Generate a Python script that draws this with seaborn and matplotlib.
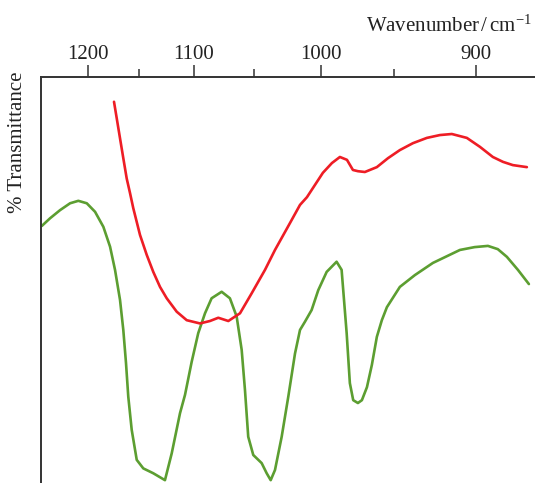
import matplotlib
matplotlib.use("Agg")
import matplotlib.pyplot as plt
import seaborn as sns
import numpy as np
import pandas as pd
from matplotlib.ticker import FixedLocator, FixedFormatter

# ---- data ----
green_wn = [1249.7, 1240.5, 1229.6, 1218.8, 1210.1, 1201.3, 1192.8, 1184.4, 1177.7, 1172.8,
            1167.9, 1164.7, 1162.1, 1159.9, 1156.6, 1151.8, 1145.6, 1136.3, 1125.6, 1119.5,
            1112.1, 1107.7, 1101.9, 1096.2, 1090.4, 1084.8, 1076.4, 1069.6, 1064.1, 1060.05,
            1057.4, 1054.8, 1050.8, 1044.2, 1040.3, 1037.2, 1033.9, 1028.8, 1023.8, 1018.8,
            1015.1, 1011.5, 1006.6, 1001.8, 995.8, 988.8, 985.3, 981.8, 979.6, 977.3,
            974.1, 971.4, 968.0, 964.7, 961.4, 958.1, 954.8, 946.4, 936.9, 925.7,
            909.4, 900.8, 893.1, 887.5, 882.4, 876.3, 870.3]
green_t = [63.3, 65.2, 67.2, 68.9, 69.5, 68.9, 66.8, 63.1, 58.2, 52.5,
           45.1, 37.7, 29.6, 21.3, 13.1, 5.7, 3.6, 2.4, 0.7, 7.3,
           17.2, 21.7, 29.8, 36.9, 41.8, 45.5, 47.1, 45.5, 41.0, 32.8,
           22.9, 11.4, 6.9, 4.9, 2.4, 0.7, 3.2, 11.4, 21.3, 31.9,
           37.7, 39.7, 42.6, 47.5, 52.0, 54.5, 52.5, 36.9, 24.6, 20.4,
           19.7, 20.4, 23.6, 29.1, 36.0, 40.1, 43.3, 48.3, 51.2, 54.2,
           57.4, 58.1, 58.4, 57.6, 55.7, 52.5, 49.0]

red_wn = [1173.8, 1171.1, 1167.9, 1164.7, 1161.4, 1158.2, 1155.1, 1148.7, 1142.4, 1136.3,
          1130.1, 1124.0, 1115.05, 1106.2, 1094.7, 1086.2, 1079.2, 1070.9, 1061.4, 1052.1,
          1041.6, 1033.9, 1022.6, 1015.1, 1010.0, 998.5, 992.1, 986.5, 981.6, 977.5,
          974.1, 969.4, 961.4, 954.1, 946.4, 938.1, 929.4, 921.4, 914.2, 905.3,
          897.7, 890.3, 884.6, 879.1, 871.4]
red_t = [93.9, 89.8, 84.9, 80.0, 75.0, 71.4, 67.7, 61.1, 56.2, 52.0,
         48.3, 45.5, 42.2, 40.1, 39.3, 39.9, 40.7, 39.9, 41.8, 46.7,
         52.5, 57.4, 64.0, 68.5, 70.4, 76.4, 78.8, 80.3, 79.6, 77.1,
         76.8, 76.6, 77.8, 80.0, 82.0, 83.7, 85.0, 85.7, 85.96, 85.0,
         82.8, 80.3, 79.1, 78.3, 77.8]

major_ticks = [1200, 1100, 1000, 900]
minor_ticks = [1150, 1050, 950]
tick_labels = ["1200", "1100", "1000", "900"]

# ---- style ----
sns.set_style("white")
plt.rcParams["font.family"] = ["Liberation Serif", "DejaVu Serif"]
plt.rcParams["mathtext.fontset"] = "stix"

W, H = 535, 483
fig = plt.figure(figsize=(W / 100, H / 100), dpi=100)
left = 40.5 / W
top_px = 77.0
ax = fig.add_axes([left, 0.0, 1.0 - left, (H - top_px) / H])

df_g = pd.DataFrame({"wn": green_wn, "t": green_t})
df_r = pd.DataFrame({"wn": red_wn, "t": red_t})
sns.lineplot(data=df_g, x="wn", y="t", sort=False, color="#5c9e31", lw=1.9, ax=ax)
sns.lineplot(data=df_r, x="wn", y="t", sort=False, color="#ee1d25", lw=1.9, ax=ax)
for ln in ax.lines:
    ln.set_solid_joinstyle("round")
    ln.set_solid_capstyle("round")

# x axis linear in wavelength (1/wavenumber), high wavenumber on the left
ax.set_xscale("function", functions=(lambda x: -1.0 / x, lambda y: -1.0 / y))
ax.set_xlim(1251.1, 867.0)
ax.set_ylim(0, 100)

ax.xaxis.set_major_locator(FixedLocator(major_ticks))
ax.xaxis.set_major_formatter(FixedFormatter(tick_labels))
ax.xaxis.set_minor_locator(FixedLocator(minor_ticks))
ax.xaxis.set_minor_formatter(FixedFormatter(["", "", ""]))
ax.xaxis.tick_top()
ax.tick_params(axis="x", which="major", direction="out", length=8.6, width=1.1,
               color="#333333", labelsize=15, pad=1.1, labelcolor="#222222")
ax.tick_params(axis="x", which="minor", direction="out", length=5.8, width=1.1,
               color="#333333")
ax.set_yticks([])
ax.set_xlabel("")
ax.set_ylabel("")

for s in ["bottom", "right"]:
    ax.spines[s].set_visible(False)
for s in ["top", "left"]:
    ax.spines[s].set_visible(True)
    ax.spines[s].set_color("#333333")
    ax.spines[s].set_linewidth(1.4)

fig.text(18 / W, 1 - 142 / H, "% Transmittance", rotation=90, ha="center", va="center",
         fontsize=15, color="#222222")
fig.text(532 / W, 1 - 32 / H, r"Wavenumber$\,$/$\,$cm$^{\mathregular{-1}}$", ha="right",
         va="baseline", fontsize=15, color="#222222")

fig.savefig("out.png", dpi=100)
